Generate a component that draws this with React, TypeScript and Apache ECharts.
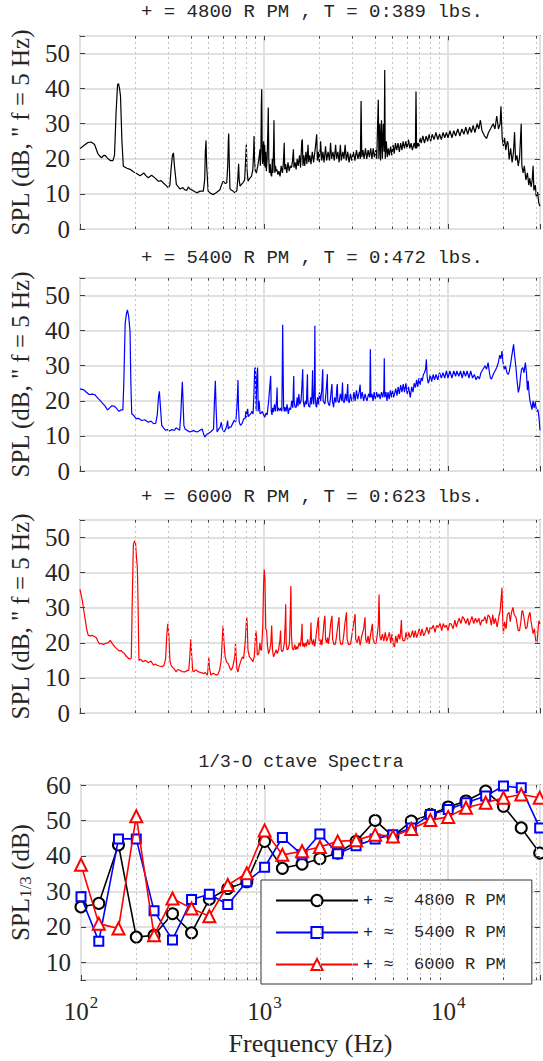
import React, { useEffect, useRef } from "react";
import * as echarts from "echarts";

const SERIF = "'Liberation Serif', 'Times New Roman', serif";
const MONO = "'Liberation Mono', 'DejaVu Sans Mono', monospace";
const INK = "#262626";

const panelTitles = [
  "+ = 4800 R PM , T = 0:389 lbs.",
  "+ = 5400 R PM , T = 0:472 lbs.",
  "+ = 6000 R PM , T = 0:623 lbs.",
];
const octaveTitle = "1/3-O ctave Spectra";
const spectrumYName = 'SPL (dB, " f = 5 Hz)';
const xName = "Frequency (Hz)";
const seriesColors = ["#000000", "#0000ff", "#ff0000"];
const legendNames = ["+ ≈  4800 R PM", "+ ≈  5400 R PM", "+ ≈  6000 R PM"];
const legendSymbols = ["emptyCircle", "emptyRect", "emptyTriangle"];
const legendSymbolSizes = [11, 9, 12];

const majorFreqs = [1000, 10000];
const minorFreqs = [200, 300, 400, 500, 600, 700, 800, 900, 2000, 3000, 4000, 5000, 6000, 7000, 8000, 9000, 20000, 30000];

const thirdOctaveFreqs = [100, 125, 160, 200, 250, 315, 400, 500, 630, 800, 1000, 1250, 1600, 2000, 2500, 3150, 4000, 5000, 6300, 8000, 10000, 12500, 16000, 20000, 25000, 31500];
const third4800 = [25.6, 26.6, 43.1, 17.1, 17.6, 23.7, 18.3, 27.8, 30.8, 32.7, 44.1, 36.5, 37.7, 39.2, 40.8, 44.1, 50, 45.5, 49.8, 51.7, 53.8, 55.5, 58.3, 54, 47.9, 40.8];
const third5400 = [28.5, 15.9, 44.8, 44.8, 24.5, 16.3, 27.7, 29.2, 26.3, 32.7, 36.8, 45.2, 40.3, 46.2, 40.6, 42.9, 44.8, 46, 47.9, 51.7, 53.1, 55, 56.9, 59.7, 59.2, 47.9];
const third6000 = [37.5, 20.9, 19.5, 51.2, 17.6, 28, 25.2, 23, 31.8, 35.1, 47.2, 40.3, 41.3, 42.5, 44.1, 44.4, 46, 45.5, 47.6, 50.1, 51, 53.6, 55, 56.4, 57.3, 56.4];

const spectrum4800 = [
  [100,22.9],[105,23.8],[110,24.6],[115,24.8],[120,24.1],[125,21.5],[128,20.8],[131,20.3],[134,20.9],[137,21],[141,20.2],[146,19.5],[151,19.5],[154,21],[157,33],[160,41.2],[162,41.4],[164,40],[166,37.9],[169,25],[172,17.9],[180,17.3],[187,17],[195,16.3],[203,15.8],[212,15.2],[218,15.6],[222,16],[228,15.2],[235,14.6],[245,15.3],[256,14.5],[267,13.6],[276,13.8],[284,13.1],[295,12.3],[302,11.7],[308,12.5],[313,17.5],[318,21],[322,21.7],[326,18],[334,12.7],[342,12],[350,11.4],[362,11.8],[370,11.2],[380,11],[388,12],[396,11.4],[410,11],[431,10.3],[450,10.8],[468,10.8],[476,14],[480,22],[484,25.2],[488,18],[497,10.8],[512,10.2],[530,9.8],[552,10.4],[576,11.2],[590,12.8],[600,13.6],[615,13],[627,13.1],[635,18],[640,25],[643,27.2],[647,20],[653,11.5],[660,11.2],[678,10.8],[696,10.3],[712,11],[720,14],[728,18.6],[733,14],[741,12.2],[756,12.8],[772,13.3],[785,14],[795,20],[802,24.1],[808,17],[819,13.6],[837,14.5],[855,15],[870,17],[878,22],[883,26.5],[888,20],[899,16],[909,16],[925,18],[938,20],[951,22.7],[955,18],[962,22],[967,35],[972,39.8],[977,25],[982,18.5],[986,24],[991,19],[996,25],[1002,18],[1008,24],[1015,17.5],[1022,22],[1030,16.5],[1040,20],[1048,27],[1055,34.6],[1062,20],[1070,16],[1080,18.5],[1090,15.5],[1101,15],[1110,20],[1118,16],[1128,24],[1133,31],[1138,22],[1145,16],[1155,18],[1165,16.5],[1175,17],[1190,15.5],[1205,16.5],[1222,15],[1240,18],[1260,16],[1275,19],[1288,24.6],[1296,17],[1310,18.5],[1330,16],[1350,19],[1370,16.5],[1390,18],[1410,17.5],[1430,19.5],[1445,22.7],[1455,17.5],[1475,19],[1495,17],[1515,20],[1535,18],[1560,21],[1580,17.5],[1605,25],[1616,25.5],[1628,18],[1645,21],[1665,18],[1690,22],[1710,18.5],[1735,24],[1750,19],[1775,21],[1800,18.5],[1830,22],[1860,19],[1900,23],[1934,27],[1950,19.5],[1975,22],[2000,19],[2030,25],[2060,19.5],[2090,22],[2120,19],[2160,23.6],[2190,19.5],[2230,22],[2270,19.5],[2300,24.6],[2330,20],[2370,22],[2410,19.5],[2450,24],[2480,20],[2520,22],[2560,19],[2600,24],[2630,19.5],[2680,22],[2720,20],[2760,24],[2800,19.5],[2850,22],[2900,19],[2950,21.5],[3000,19.5],[3060,22],[3120,19.5],[3180,22.5],[3240,20],[3300,22],[3340,20],[3370,36.5],[3400,20.5],[3450,22.5],[3500,20],[3560,23],[3620,20],[3680,22.5],[3740,20.5],[3800,23],[3860,20],[3920,23],[3980,20.5],[4050,22.5],[4100,20],[4150,31],[4180,36.8],[4210,20],[4260,30],[4300,19.5],[4350,31],[4400,20],[4450,30],[4500,22],[4530,45.3],[4560,20],[4620,25],[4680,20.5],[4740,23],[4800,21],[4880,23.5],[4950,21],[5030,24],[5100,21.5],[5180,24.5],[5260,22.5],[5350,24.5],[5440,22],[5530,24.5],[5620,22.5],[5700,25],[5800,23],[5900,25],[6000,23],[6100,25.5],[6200,23],[6300,24.5],[6400,22.5],[6550,24.5],[6650,23],[6700,39.2],[6750,23],[6850,24.5],[6950,23.5],[7050,26],[7150,24.5],[7300,26.5],[7450,24.5],[7600,26.5],[7750,25],[7900,27],[8050,25],[8200,27],[8400,25.5],[8600,27.5],[8800,25.5],[9000,27],[9200,25.5],[9400,27.5],[9600,26],[9800,27.5],[10000,26],[10250,28],[10500,26],[10750,28],[11000,26.5],[11300,28.5],[11600,26.5],[11900,28.5],[12200,27],[12500,29],[12800,27],[13100,29],[13400,27.5],[13700,29.5],[14000,27.5],[14400,30],[14700,28.5],[15000,31],[15300,28],[15500,27.4],[15800,26.5],[16200,25.8],[16600,27.5],[17000,28.5],[17600,30],[18000,28.5],[18400,32.2],[18800,28.5],[19200,30],[19400,35],[19700,26],[20000,23.6],[20300,26],[20600,22.5],[21000,25],[21200,24.6],[21500,19.8],[21900,23],[22300,19],[22700,22],[23000,27.6],[23300,19.5],[23700,21],[24100,18],[24500,20.5],[25000,30],[25200,18],[25600,16],[26000,18],[26500,14],[27000,16],[27500,12.5],[27800,14.5],[28300,12],[28700,14],[29000,18],[29300,11],[29800,12.5],[30200,9.3],[30700,10.5],[31100,7.5],[31622,6.5],
];

const spectrum5400 = [
  [100,23.4],[105,23.1],[108,22.5],[112,21.8],[116,21.9],[120,21.8],[124,21],[128,20.2],[132,19.4],[137,18.5],[141,17.4],[145,18],[149,18.6],[153,18.5],[156,18.2],[160,17.5],[163,17],[167,17.4],[171,17.4],[173,25],[176,42],[179,45],[181,45.9],[184,44],[187,39.8],[189,25],[191,16.3],[196,15.8],[202,14.9],[209,15],[216,14.4],[225,14.6],[235,13.9],[243,14.2],[251,13.5],[258,13.6],[263,16],[267,21],[270,22.7],[273,19],[278,13],[285,12.2],[292,11.6],[299,11.8],[306,11.4],[316,11.8],[326,11.6],[333,12.3],[340,12],[348,11.6],[353,16],[357,22],[360,25.4],[363,20],[367,13],[372,12],[384,11.5],[396,11.1],[414,11.5],[432,11.1],[445,11.5],[461,12],[470,10.5],[477,9.7],[490,10.5],[502,10.8],[514,11.2],[524,11.6],[532,12],[538,20],[544,25.7],[549,18],[556,11.1],[568,12],[578,12.5],[586,13.9],[594,12],[607,11.1],[620,12],[628,13],[634,14.4],[640,12],[650,12.5],[661,12.5],[675,13.5],[690,14.5],[702,14],[712,18],[718,22],[722,25.9],[727,18],[733,14],[745,13],[760,13.5],[775,14.8],[790,15],[797,17],[802,15.3],[815,17.7],[822,15.5],[835,16],[848,16.3],[860,17],[872,16.2],[882,22],[890,29],[898,29.5],[905,17],[915,27],[923,29.5],[930,17],[940,20],[952,16.3],[965,16.5],[980,17],[995,16],[1009,15.3],[1025,16.5],[1040,16],[1060,20],[1075,24],[1087,27.1],[1095,17],[1105,16],[1115,18],[1127,16.8],[1140,19],[1155,17],[1170,20],[1178,23.8],[1185,17],[1200,18],[1220,17.2],[1235,18],[1250,17],[1258,30],[1263,41.7],[1270,30],[1278,18.2],[1290,17],[1301,18.2],[1318,17],[1335,19],[1355,16.3],[1374,18],[1395,17.5],[1415,20],[1435,18],[1445,24],[1451,27.1],[1458,20],[1475,18.2],[1497,18.2],[1515,21],[1530,18.5],[1547,21.9],[1565,19],[1590,20],[1610,25],[1623,29],[1635,20],[1656,18.2],[1680,20],[1700,19],[1715,25],[1722,27.6],[1730,20],[1750,18.5],[1772,18.2],[1795,21],[1815,19],[1830,25],[1837,28.7],[1845,21],[1865,19],[1880,25],[1890,41.4],[1900,21],[1918,18.5],[1934,18.2],[1955,21],[1980,19],[2001,22.4],[2030,20],[2060,23],[2080,28],[2086,29],[2095,20],[2120,19.5],[2144,19.1],[2170,22],[2200,26],[2209,27.6],[2220,20],[2245,19],[2272,18.6],[2300,21],[2330,24],[2341,24.8],[2355,20],[2389,18.2],[2420,21],[2460,19.5],[2490,24],[2503,24.8],[2520,20],[2560,19.5],[2600,22],[2640,20],[2671,25.2],[2690,20],[2730,19.5],[2770,22],[2810,20],[2851,24.8],[2870,20],[2910,19.5],[2950,22],[3000,20],[3040,20],[3080,22.5],[3130,20],[3180,23],[3230,20.5],[3290,22.5],[3330,24.6],[3360,20.5],[3420,22.5],[3480,20],[3540,22],[3600,20.5],[3630,20],[3700,22],[3760,21],[3784,34.7],[3810,21],[3860,22],[3916,20],[3970,22.5],[4030,20.5],[4090,22.5],[4150,21],[4220,22],[4280,20.5],[4350,22.5],[4420,21],[4480,23],[4505,32.1],[4530,21],[4600,22.5],[4658,20],[4720,22.5],[4790,20.5],[4860,23],[4930,21],[5000,23],[5060,21],[5123,22],[5200,23.5],[5280,21.5],[5360,24],[5440,22],[5530,24.5],[5620,22.5],[5710,24.8],[5800,22.5],[5900,25],[6000,22],[6100,24],[6237,21],[6350,24],[6450,22.5],[6550,25],[6655,23.8],[6750,26],[6850,24],[6950,26.5],[7050,24.5],[7150,26.5],[7247,25.7],[7350,27.5],[7450,28],[7550,29],[7630,31.8],[7700,27],[7800,25],[7898,25.7],[8000,27.5],[8150,25.5],[8300,27.5],[8450,26],[8613,27.5],[8800,26],[9000,28],[9200,26.5],[9390,28],[9600,26.5],[9800,28.5],[10000,26.5],[10240,28.5],[10500,26.5],[10750,28.5],[11000,27],[11170,28.5],[11450,27],[11700,28.5],[11950,26.5],[12180,28.5],[12450,27],[12700,28.5],[13000,26.5],[13280,28.5],[13600,26.5],[13900,27.5],[14200,26],[14500,27],[14810,26.2],[15100,28],[15500,29],[15900,30],[16200,29],[16520,30.9],[16800,28],[17000,26.5],[17240,26.2],[17600,27.5],[18000,28.5],[18400,29.5],[18800,31],[19100,33],[19400,32],[19650,34.2],[19900,31],[20200,29],[20540,29.9],[20900,28],[21200,27.5],[21460,28.1],[21800,30],[22100,32],[22400,34],[22720,36.1],[23000,33],[23400,29.5],[23700,26],[24120,22.4],[24500,24],[24800,27],[25100,29],[25500,29.5],[25900,28],[26330,30.9],[26700,28],[27000,23],[27290,25.7],[27600,22],[27900,20],[28160,19.1],[28600,17.5],[29000,20],[29400,18],[29850,19.6],[30300,17],[30800,17.5],[31230,15.3],[31622,11.6],
];

const spectrum6000 = [
  [100,35.2],[101.5,33.5],[103,32],[105,29],[107,26.3],[109,23.5],[111,22.1],[114,22],[117,22.1],[120,21.8],[123,21.4],[125,20.5],[127,19.7],[131,19.8],[134,19.5],[137,19.8],[140,19.9],[143,20.1],[146,20.7],[149,20],[152,19.3],[157,18.5],[163,17.7],[167,17.8],[170,17.4],[174,17],[177,16.4],[181,15.9],[185,15.4],[188,15.5],[190,15.6],[192,30],[195,48],[198,49],[200,48.9],[203,44],[205,41.4],[207,30],[209,15],[214,15.3],[220,14.6],[227,15],[235,14.3],[243,14.8],[251,13.6],[256,14],[262,13.6],[270,13.4],[280,13.2],[286,13.6],[292,15.5],[296,22],[300,25.4],[304,22],[308,15],[313,13.5],[319,13],[326,12.5],[333,11.7],[340,12.4],[348,12.2],[358,11.8],[371,11.7],[380,12],[390,12.2],[395,16],[400,21],[405,16],[410,12],[415,11.7],[425,12.3],[442,11.7],[455,11.5],[470,11.3],[480,11.5],[493,10.8],[497,13],[501,15.8],[505,13],[514,10.8],[530,11.3],[549,10.8],[560,11],[574,12.2],[585,15],[592,20],[599,24.9],[606,20],[615,16],[626,14.6],[640,14],[650,13],[663,12.2],[675,13],[694,16],[700,19.7],[706,16],[713,12.5],[721,11.7],[735,13.5],[750,15],[763,16],[775,15.5],[790,20],[800,25],[806,27.3],[811,25],[818,18],[833,16],[850,15.5],[870,14.6],[885,16],[895,20],[902,23.5],[910,22],[920,16.5],[937,16.9],[950,20],[960,18],[970,17.9],[985,25],[995,37],[1003,40.9],[1012,38],[1022,24],[1033,23.5],[1045,19],[1058,16.9],[1075,18],[1090,20],[1101,24.9],[1112,18],[1127,16],[1145,17],[1165,18],[1178,16.9],[1200,18],[1222,21],[1230,23.5],[1240,18],[1255,17.5],[1271,17.9],[1290,20],[1305,26],[1312,31],[1320,20],[1335,18],[1354,18.3],[1375,20],[1392,30],[1400,36.2],[1410,22],[1425,18.5],[1447,17.9],[1470,19.5],[1490,18],[1510,19],[1526,18.3],[1550,20],[1575,19],[1598,22],[1610,25.4],[1620,19],[1640,20],[1656,18.8],[1680,20],[1700,19],[1725,21],[1750,19.5],[1772,19.7],[1790,22],[1800,25.8],[1810,21],[1835,19.5],[1860,21],[1880,19],[1894,19.3],[1920,22],[1950,25],[1975,27.3],[1990,21],[2020,19.5],[2040,21],[2064,19.3],[2090,22],[2120,26],[2144,27.7],[2160,21],[2190,20],[2215,21.5],[2239,19.7],[2270,22],[2310,26],[2341,27.7],[2360,21],[2400,19.5],[2445,19.7],[2480,22],[2520,25],[2558,27.3],[2580,21],[2620,19.5],[2671,19.7],[2710,22],[2760,26],[2807,28.7],[2830,21],[2880,19.5],[2955,19.7],[3000,22],[3060,25],[3128,28.2],[3150,21],[3210,20],[3270,22],[3330,19.3],[3400,22],[3480,24],[3540,27.3],[3570,21],[3620,20],[3680,22],[3732,19.7],[3800,22.5],[3880,25.4],[3920,21],[3980,20],[4050,19.7],[4120,22],[4180,25],[4220,33.8],[4260,22],[4320,20.7],[4400,22.5],[4480,20.5],[4560,23],[4640,20.5],[4720,21.6],[4800,23],[4880,20],[4960,22.5],[5040,19.5],[5123,18.8],[5200,22],[5290,20],[5380,22.5],[5480,21],[5540,24],[5580,26.5],[5620,22],[5700,20.5],[5820,20.7],[5920,23],[6020,21],[6120,23],[6220,21.5],[6310,22.1],[6420,23.5],[6520,21.5],[6640,23.5],[6750,21.5],[6860,22.6],[6980,24],[7100,22],[7230,24],[7370,22],[7530,23],[7680,24.5],[7850,22.5],[8000,24.5],[8160,24],[8320,25],[8500,23],[8680,25],[8850,24.4],[9050,25.5],[9250,23.5],[9420,25.5],[9600,24.4],[9800,25],[10000,23.5],[10200,25.5],[10400,25.4],[10650,24],[10900,26.5],[11100,24.5],[11280,25.8],[11500,27],[11750,25.5],[12000,27.5],[12250,26.8],[12500,25.5],[12800,27],[13000,25],[13270,26.3],[13500,27.5],[13800,25.5],[14100,27],[14380,25.8],[14700,27],[15000,25],[15300,26.5],[15580,26.3],[15900,27.5],[16200,25.5],[16500,28],[16880,27.3],[17200,25],[17500,28],[17800,25.4],[18100,27],[18500,24.5],[18900,27.5],[19200,29],[19650,35.7],[19800,28],[20000,22.6],[20300,26],[20700,24],[21000,28],[21460,28.7],[21800,26],[22100,28.5],[22550,30.1],[22900,28],[23400,27.3],[23800,25],[24100,23.5],[24470,23.5],[24900,26],[25200,29],[25500,29.1],[26000,26.5],[26400,24],[26900,24.4],[27300,27],[27600,28],[27900,28.7],[28300,26],[28700,24],[29000,22.6],[29500,24],[29900,21],[30400,19.7],[30700,22],[31000,25],[31200,26.3],[31622,25.4],
];

const spectra = [spectrum4800, spectrum5400, spectrum6000];
const thirdOctaves = [third4800, third5400, third6000];

const FMIN = 100;
const FMAX = Math.pow(10, 4.5);
const GRID_LEFT = 80;
const GRID_WIDTH = 460;
const gridTops = [36, 278, 520, 785];
const gridHeights = [193, 193, 193, 195];
const yMins = [0, 0, 0, 5];
const yMaxs = [55, 55, 55, 60];
const yTickValues = [[10, 20, 30, 40, 50], [10, 20, 30, 40, 50], [10, 20, 30, 40, 50], [10, 20, 30, 40, 50]];
const titleYs = [12, 258, 497, 762];

function buildOption() {
  const grids = gridTops.map((top, i) => ({
    left: GRID_LEFT,
    top,
    width: GRID_WIDTH,
    height: gridHeights[i],
    show: true,
    backgroundColor: "#ffffff",
    borderColor: "#4d4d4d",
    borderWidth: 1.5,
  }));

  const xAxes = gridTops.map((_, i) => ({
    type: "log",
    logBase: 10,
    gridIndex: i,
    min: FMIN,
    max: FMAX,
    axisLine: { show: false },
    axisTick: { show: true, inside: true, length: 5, lineStyle: { color: "#404040", width: 1 } },
    splitLine: { show: true, lineStyle: { color: "#e1e1e1", width: 2 } },
    axisLabel:
      i === 3
        ? {
            show: true,
            margin: 14,
            formatter: (v: number) => {
              const e = Math.log10(v);
              if (Math.abs(e - Math.round(e)) > 1e-6) return "";
              return `{b|10}{s|${Math.round(e)}}`;
            },
            rich: {
              b: { fontFamily: SERIF, fontSize: 25, color: INK, lineHeight: 30, verticalAlign: "bottom" },
              s: { fontFamily: SERIF, fontSize: 17, color: INK, lineHeight: 30, verticalAlign: "top", padding: [0, 0, 0, 1] },
            },
          }
        : { show: false },
    name: i === 3 ? xName : "",
    nameLocation: "middle",
    nameGap: 50,
    nameTextStyle: { fontFamily: SERIF, fontSize: 26, color: INK },
  }));

  const yAxes = gridTops.map((_, i) => ({
    type: "value",
    gridIndex: i,
    min: yMins[i],
    max: yMaxs[i],
    interval: i < 3 ? 10 : undefined,
    axisLine: { show: false },
    axisTick: { show: true, inside: true, length: 5, lineStyle: { color: "#404040", width: 1 } },
    splitLine: { show: true, lineStyle: { color: "#e1e1e1", width: 2 } },
    axisLabel: {
      margin: 10,
      fontFamily: SERIF,
      fontSize: 25,
      color: INK,
      formatter: (v: number) => (Math.abs(v % 10) < 1e-6 ? String(v) : ""),
    },
    name: i < 3 ? spectrumYName : "{a|SPL}{s|1/3}{a| (dB)}",
    nameLocation: "middle",
    nameRotate: 90,
    nameGap: 47,
    nameTextStyle:
      i < 3
        ? { fontFamily: SERIF, fontSize: 25, color: INK }
        : {
            fontFamily: SERIF,
            fontSize: 25,
            color: INK,
            rich: {
              a: { fontFamily: SERIF, fontSize: 25, color: INK, lineHeight: 26, verticalAlign: "top" },
              s: { fontFamily: SERIF, fontSize: 17, color: INK, lineHeight: 14, verticalAlign: "bottom" },
            },
          },
  }));

  const series: any[] = [];
  gridTops.forEach((_, i) => {
    // dotted minor grid lines
    series.push({
      type: "line",
      name: "minor-grid-" + i,
      xAxisIndex: i,
      yAxisIndex: i,
      data: [],
      silent: true,
      z: 1,
      markLine: {
        silent: true,
        symbol: ["none", "none"],
        label: { show: false },
        emphasis: { disabled: true },
        lineStyle: { type: [2, 3], color: "#c4c4c4", width: 1 },
        data: minorFreqs.map((f) => ({ xAxis: f })),
      },
    });
    // box ticks: minor ticks on bottom/top, major ticks on top, y ticks on right
    const lo = yMins[i];
    const hi = yMaxs[i];
    const dy = (hi - lo) * 0.022;
    const tickPairs: any[] = [];
    minorFreqs.forEach((f) => {
      tickPairs.push([{ coord: [f, lo] }, { coord: [f, lo + dy * 0.6] }]);
      tickPairs.push([{ coord: [f, hi] }, { coord: [f, hi - dy * 0.6] }]);
    });
    majorFreqs.forEach((f) => {
      tickPairs.push([{ coord: [f, hi] }, { coord: [f, hi - dy] }]);
    });
    yTickValues[i].forEach((v) => {
      tickPairs.push([{ coord: [FMAX, v] }, { coord: [FMAX / Math.pow(10, 0.028), v] }]);
    });
    series.push({
      type: "line",
      name: "box-ticks-" + i,
      xAxisIndex: i,
      yAxisIndex: i,
      data: [],
      silent: true,
      z: 6,
      markLine: {
        silent: true,
        symbol: ["none", "none"],
        label: { show: false },
        emphasis: { disabled: true },
        lineStyle: { type: "solid", color: "#404040", width: 1 },
        data: tickPairs,
      },
    });
  });

  spectra.forEach((data, k) => {
    series.push({
      type: "line",
      name: "spectrum-" + k,
      xAxisIndex: k,
      yAxisIndex: k,
      data,
      symbol: "none",
      showSymbol: false,
      silent: true,
      z: 3,
      lineStyle: { color: seriesColors[k], width: 1.2 },
      itemStyle: { color: seriesColors[k] },
    });
  });

  thirdOctaves.forEach((vals, k) => {
    series.push({
      type: "line",
      name: legendNames[k],
      xAxisIndex: 3,
      yAxisIndex: 3,
      data: thirdOctaveFreqs.map((f, j) => [f, vals[j]]),
      symbol: legendSymbols[k],
      symbolSize: legendSymbolSizes[k],
      silent: true,
      z: 4 + k,
      lineStyle: { color: seriesColors[k], width: 1.6 },
      itemStyle: { color: seriesColors[k], borderWidth: 1.6 },
    });
  });

  const graphics: any[] = panelTitles.map((t, i) => ({
    type: "text",
    x: 312,
    y: titleYs[i],
    style: { text: t, fontFamily: MONO, fontSize: 19, fill: INK, align: "center", verticalAlign: "middle" },
    silent: true,
  }));
  graphics.push({
    type: "text",
    x: 301,
    y: titleYs[3],
    style: { text: octaveTitle, fontFamily: MONO, fontSize: 18, fill: INK, align: "center", verticalAlign: "middle" },
    silent: true,
  });

  return {
    animation: false,
    backgroundColor: "#ffffff",
    textStyle: { fontFamily: SERIF },
    grid: grids,
    xAxis: xAxes,
    yAxis: yAxes,
    legend: {
      data: legendNames,
      orient: "vertical",
      left: 261,
      top: 880,
      itemWidth: 82,
      itemHeight: 14,
      itemGap: 15,
      padding: [12, 26, 11, 14],
      backgroundColor: "#ffffff",
      borderColor: "#333333",
      borderWidth: 1,
      selectedMode: false,
      textStyle: { fontFamily: MONO, fontSize: 17, color: INK, lineHeight: 14 },
    },
    graphic: graphics,
    series,
  };
}

export default function App() {
  const ref = useRef<HTMLDivElement>(null);
  useEffect(() => {
    if (!ref.current) return;
    const chart = echarts.init(ref.current, undefined, { renderer: "svg" });
    chart.setOption(buildOption() as any);
    return () => chart.dispose();
  }, []);
  return (
    <div
      ref={ref}
      style={{ position: "absolute", left: 0, top: 0, width: 543, height: 1061, background: "#ffffff" }}
    />
  );
}
